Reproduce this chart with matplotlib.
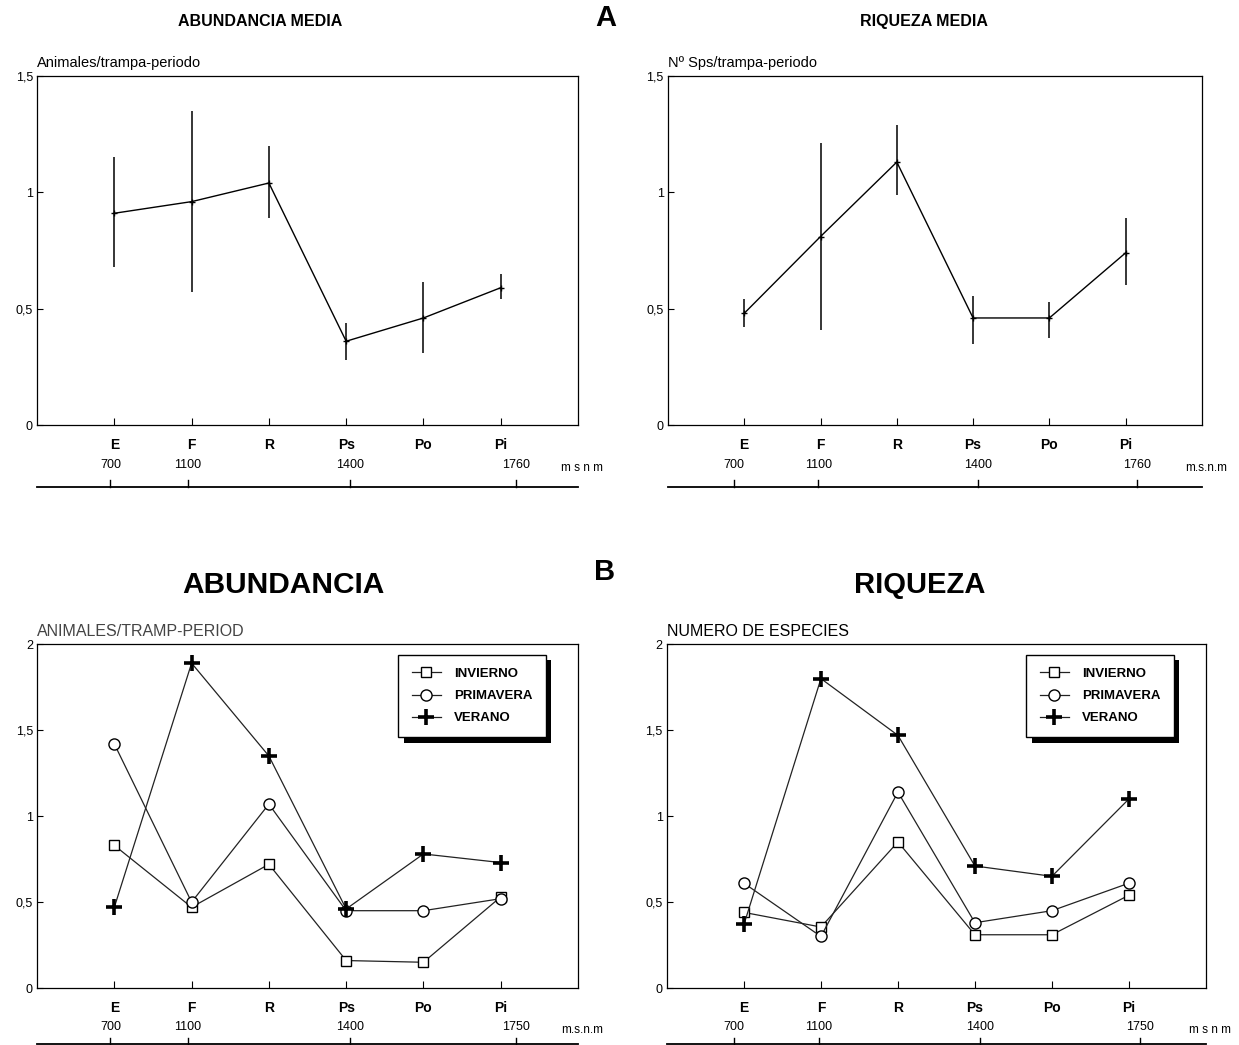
import matplotlib
matplotlib.use("Agg")
import matplotlib.pyplot as plt
import matplotlib.patheffects as pe

plt.rcParams['font.family'] = ['Liberation Sans', 'DejaVu Sans']

cats = ["E", "F", "R", "Ps", "Po", "Pi"]
xpos = [1, 2, 3, 4, 5, 6]

# medias con barras de error (A)
abund_media = [0.91, 0.96, 1.04, 0.36, 0.46, 0.59]
abund_low = [0.68, 0.57, 0.89, 0.28, 0.31, 0.54]
abund_high = [1.15, 1.35, 1.20, 0.44, 0.615, 0.65]
riq_media = [0.48, 0.81, 1.13, 0.46, 0.46, 0.74]
riq_low = [0.42, 0.41, 0.99, 0.35, 0.375, 0.60]
riq_high = [0.54, 1.21, 1.29, 0.555, 0.53, 0.89]

# por estacion (B)
abund_invierno = [0.83, 0.47, 0.72, 0.16, 0.15, 0.53]
abund_primavera = [1.42, 0.50, 1.07, 0.45, 0.45, 0.52]
abund_verano = [0.47, 1.89, 1.35, 0.46, 0.78, 0.73]
riq_invierno = [0.44, 0.355, 0.85, 0.31, 0.31, 0.54]
riq_primavera = [0.61, 0.30, 1.14, 0.38, 0.45, 0.61]
riq_verano = [0.37, 1.80, 1.47, 0.71, 0.65, 1.10]

# altitudes (m s n m)
elev_labels_top = ["700", "1100", "1400", "1760"]
elev_labels_bot = ["700", "1100", "1400", "1750"]
elev_pos_a = [0.95, 1.95, 4.05, 6.2]
elev_pos_b = [0.87, 1.97, 4.07, 6.15]

yticks_top = [0, 0.5, 1, 1.5]
yticks_bot = [0, 0.5, 1, 1.5, 2]
ytick_labels_top = ["0", "0,5", "1", "1,5"]
ytick_labels_bot = ["0", "0,5", "1", "1,5", "2"]


def style_axes(ax, yticks, ylabels, ymax):
    ax.set_xlim(0, 7)
    ax.set_ylim(0, ymax)
    ax.set_yticks(yticks)
    ax.set_yticklabels(ylabels, fontsize=9)
    ax.set_xticks(xpos)
    ax.set_xticklabels(cats, fontsize=10, fontweight='bold')
    ax.tick_params(axis='y', direction='in', length=4, width=0.8, pad=3)
    ax.tick_params(axis='x', direction='in', length=5, width=0.8, pad=9)
    for s in ax.spines.values():
        s.set_linewidth(0.9)


def draw_elev(ax, pos, labels, unit, ylab, yline):
    tr = ax.get_xaxis_transform()
    ax.plot([0, 7], [yline, yline], transform=tr, color='k', lw=1.3, clip_on=False)
    for p, l in zip(pos, labels):
        ax.plot([p, p], [yline, yline + 0.018], transform=tr, color='k', lw=1, clip_on=False)
        ax.text(p, ylab, l, transform=tr, ha='center', va='center', fontsize=9)
    ax.text(6.78, ylab - 0.008, unit, transform=tr, ha='left', va='center', fontsize=8.5)


def draw_means(ax, media, low, high):
    yerr = [[m - l for m, l in zip(media, low)], [h - m for m, h in zip(media, high)]]
    ax.errorbar(xpos, media, yerr=yerr, color='k', lw=1, elinewidth=1.1,
                capsize=0, marker='+', ms=5, mew=1)


def draw_seasons(ax, inv, pri, ver):
    ax.plot(xpos, inv, color='#222222', lw=0.9, marker='s', ms=7, mfc='white',
            mec='k', mew=1, label='INVIERNO')
    ax.plot(xpos, pri, color='#222222', lw=0.9, marker='o', ms=8, mfc='white',
            mec='k', mew=1, label='PRIMAVERA')
    ax.plot(xpos, ver, color='#222222', lw=0.9, marker='+', ms=12, mec='k',
            mew=2.6, label='VERANO')
    leg = ax.legend(loc='upper right', bbox_to_anchor=(0.94, 0.97), fontsize=9.5,
                    frameon=True, fancybox=False, edgecolor='k', facecolor='white',
                    framealpha=1, borderpad=1.0, labelspacing=0.75,
                    handlelength=2.2, handletextpad=1.0, borderaxespad=0)
    leg.get_frame().set_linewidth(1)
    leg.legendPatch.set_path_effects([
        pe.SimplePatchShadow(offset=(4, -4), shadow_rgbFace='k', alpha=1),
        pe.Normal()])
    for t in leg.get_texts():
        t.set_fontweight('bold')


fig = plt.figure(figsize=(12.39, 10.45), dpi=100)

ax1 = fig.add_axes([0.0299, 0.5933, 0.4366, 0.334])
ax2 = fig.add_axes([0.5391, 0.5933, 0.4310, 0.334])
ax3 = fig.add_axes([0.0299, 0.0545, 0.4366, 0.329])
ax4 = fig.add_axes([0.5383, 0.0545, 0.4350, 0.329])

style_axes(ax1, yticks_top, ytick_labels_top, 1.5)
style_axes(ax2, yticks_top, ytick_labels_top, 1.5)
style_axes(ax3, yticks_bot, ytick_labels_bot, 2)
style_axes(ax4, yticks_bot, ytick_labels_bot, 2)

draw_means(ax1, abund_media, abund_low, abund_high)
draw_means(ax2, riq_media, riq_low, riq_high)
draw_seasons(ax3, abund_invierno, abund_primavera, abund_verano)
draw_seasons(ax4, riq_invierno, riq_primavera, riq_verano)

draw_elev(ax1, elev_pos_a, elev_labels_top, "m s n m", -0.115, -0.177)
draw_elev(ax2, elev_pos_b, elev_labels_top, "m.s.n.m", -0.115, -0.177)
draw_elev(ax3, elev_pos_a, elev_labels_bot, "m.s.n.m", -0.113, -0.163)
draw_elev(ax4, elev_pos_b, elev_labels_bot, "m s n m", -0.113, -0.163)

ax1.text(0, 1.037, "Animales/trampa-periodo", transform=ax1.transAxes, fontsize=10.5, va='center')
ax2.text(0, 1.037, "Nº Sps/trampa-periodo", transform=ax2.transAxes, fontsize=10.5, va='center')
ax3.text(0, 1.038, "ANIMALES/TRAMP-PERIOD", transform=ax3.transAxes, fontsize=11.5, va='center', color='#444444')
ax4.text(0, 1.038, "NUMERO DE ESPECIES", transform=ax4.transAxes, fontsize=11.5, va='center')

fig.text(0.210, 0.979, "ABUNDANCIA MEDIA", ha='center', va='center', fontsize=11.5,
         fontweight='bold')
fig.text(0.746, 0.979, "RIQUEZA MEDIA", ha='center', va='center', fontsize=11.5,
         fontweight='bold')
fig.text(0.489, 0.983, "A", ha='center', va='center', fontsize=21, fontweight='bold')
fig.text(0.229, 0.440, "ABUNDANCIA", ha='center', va='center', fontsize=21.5, fontweight='bold')
fig.text(0.742, 0.440, "RIQUEZA", ha='center', va='center', fontsize=21, fontweight='bold')
fig.text(0.488, 0.453, "B", ha='center', va='center', fontsize=21, fontweight='bold')

fig.savefig("out.png", dpi=100)
